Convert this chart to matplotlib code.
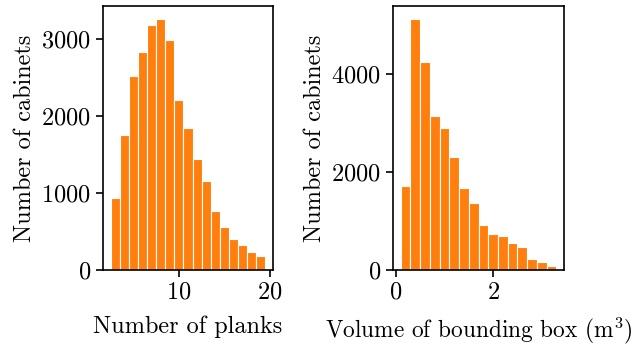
import matplotlib
matplotlib.use("Agg")
import matplotlib.pyplot as plt
import numpy as np

# number of planks per cabinet
planks = np.arange(3, 20)
planks_count = [930, 1752, 2522, 2835, 3187, 3265, 2991, 2209, 1843, 1439,
                1152, 761, 552, 409, 330, 239, 187]

# bounding box volume (m^3), bin centres
volume = np.round(np.arange(0.2, 3.25, 0.2), 2)
volume_count = [1706, 5126, 4246, 3140, 2894, 2300, 1666, 1365, 908, 744,
                703, 560, 478, 218, 171, 89]

plt.rcParams["font.family"] = "serif"
plt.rcParams["font.serif"] = ["cmr10"]
plt.rcParams["mathtext.fontset"] = "cm"
plt.rcParams["axes.formatter.use_mathtext"] = True
plt.rcParams["axes.unicode_minus"] = False
plt.rcParams["font.size"] = 17.5

orange = "#ff7f0e"

fig = plt.figure(figsize=(6.36, 3.45), dpi=100)
ax1 = fig.add_axes([103 / 636, 1 - 270 / 345, 170 / 636, 264 / 345])
ax2 = fig.add_axes([393 / 636, 1 - 270 / 345, 171 / 636, 264 / 345])

ax1.bar(planks, planks_count, width=1.0, color=orange, edgecolor="white", linewidth=0.8)
ax1.set_xlabel("Number of planks", labelpad=8)
ax1.set_ylabel("Number of cabinets")
ax1.set_xticks([10, 20])
ax1.set_yticks([0, 1000, 2000, 3000])

ax2.bar(volume, volume_count, width=0.2, color=orange, edgecolor="white", linewidth=0.8)
ax2.set_xlabel(r"Volume of bounding box (m$^3$)", labelpad=8, fontsize=16.8)
ax2.set_ylabel("Number of cabinets")
ax2.set_xticks([0, 2])
ax2.set_yticks([0, 2000, 4000])

for ax in (ax1, ax2):
    for s in ax.spines.values():
        s.set_linewidth(1.2)
    ax.tick_params(width=1.2, length=5)

fig.savefig("out.png", dpi=100)
